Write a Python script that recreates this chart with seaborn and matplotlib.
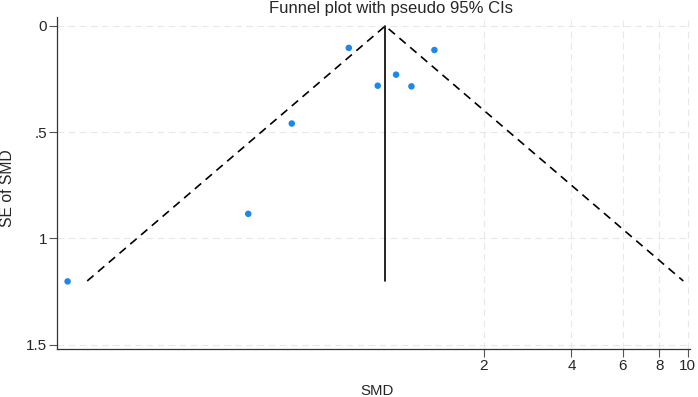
import numpy as np
import pandas as pd
import matplotlib
matplotlib.use("Agg")
import matplotlib.pyplot as plt
import seaborn as sns

# study estimates
smd = [0.075, 0.312, 0.440, 0.690, 0.867, 1.002, 1.131, 1.356]
se_smd = [1.202, 0.884, 0.459, 0.103, 0.281, 0.229, 0.284, 0.113]
pooled = 0.92
se_max = 1.2

x_ticks = [2, 4, 6, 8, 10]
x_labels = ["2", "4", "6", "8", "10"]
y_ticks = [0, 0.5, 1, 1.5]
y_labels = ["0", ".5", "1", "1.5"]

df = pd.DataFrame({"SMD": smd, "SE": se_smd})

# pseudo 95% CI limits (on the log scale)
se_line = [se_max, 0, se_max]
funnel = pd.DataFrame({
    "SE": se_line,
    "SMD": [np.exp(np.log(pooled) + z * 1.96 * s) for z, s in zip([-1, 0, 1], se_line)],
})

sns.set_style("white")
plt.rcParams["font.family"] = ["Liberation Sans", "DejaVu Sans"]

fig = plt.figure(figsize=(6.98, 3.97), dpi=100)
ax = fig.add_axes([0.0817, 0.121, 0.907, 0.836])

ax.set_xscale("log")
for t in x_ticks:
    ax.axvline(t, color="#e8e8e8", lw=0.8, ls=(0, (6, 4)), zorder=0)
for t in y_ticks:
    ax.axhline(t, color="#e8e8e8", lw=0.8, ls=(0, (6, 4)), zorder=0)

ax.plot(funnel["SMD"], funnel["SE"], color="black", lw=1.2, ls=(0, (5, 3.5)))
ax.plot([pooled, pooled], [0, se_max], color="black", lw=1.2)
sns.scatterplot(data=df, x="SMD", y="SE", color="#1f87e8", s=22, edgecolor="none",
                ax=ax, zorder=3)

ax.set_xlim(0.069, 10.2)
ax.set_ylim(1.52, -0.042)
ax.set_xticks(x_ticks)
ax.set_xticklabels(x_labels)
ax.xaxis.set_minor_locator(matplotlib.ticker.NullLocator())
ax.set_yticks(y_ticks)
ax.set_yticklabels(y_labels)
ax.tick_params(axis="both", length=5.5, width=0.8, labelsize=11, color="#555555",
               direction="out", left=True, bottom=True, pad=1.5)

for s in ["top", "right"]:
    ax.spines[s].set_visible(False)
for s in ["left", "bottom"]:
    ax.spines[s].set_color("#333333")
    ax.spines[s].set_linewidth(0.9)

ax.set_xlabel("SMD", fontsize=10.8)
ax.xaxis.set_label_coords(0.5055, -0.128)
ax.xaxis.label.set_verticalalignment("center")
ax.set_ylabel("SE of SMD", fontsize=11.3)
ax.yaxis.set_label_coords(-0.078, 0.485)
ax.yaxis.label.set_verticalalignment("center")
fig.text(0.560, 0.979, "Funnel plot with pseudo 95% CIs", fontsize=12,
         ha="center", va="center")

fig.savefig("out.png", dpi=100)
